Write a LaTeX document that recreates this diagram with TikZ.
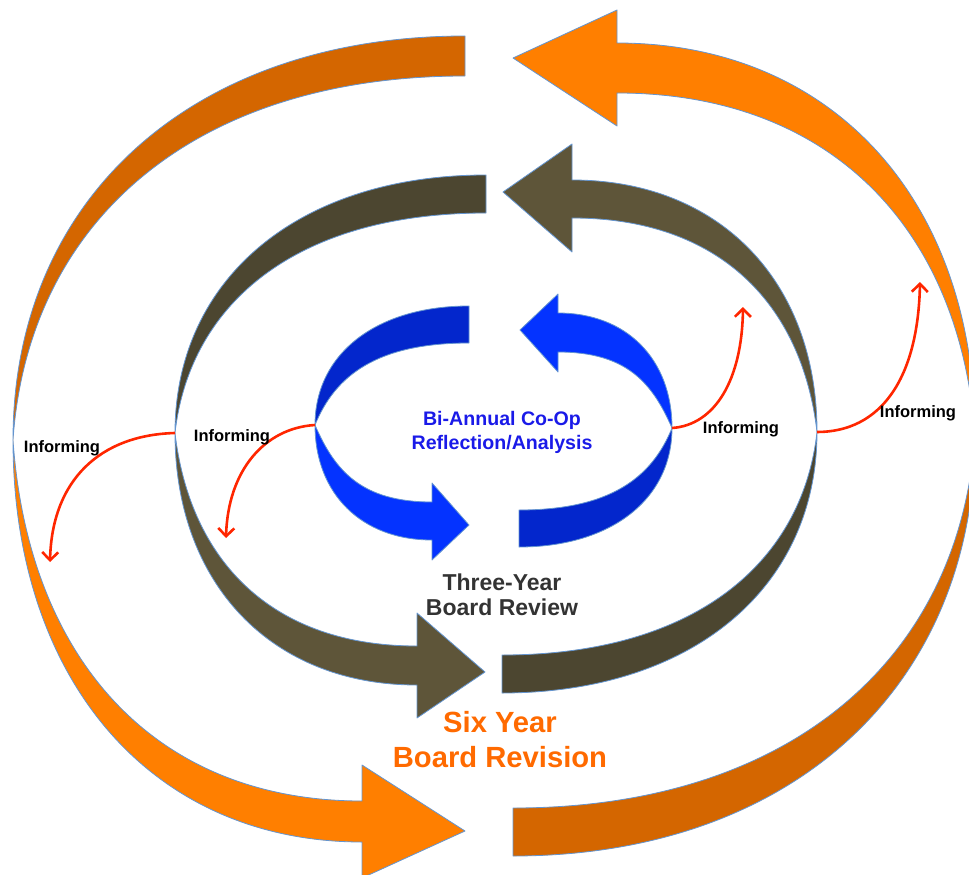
\documentclass[tikz,border=0pt]{standalone}
\usepackage{fontspec}
\setmainfont{Liberation Sans}
\usetikzlibrary{arrows.meta}
\definecolor{orA}{HTML}{FF7F00}
\definecolor{orB}{HTML}{D46600}
\definecolor{olA}{HTML}{5E5539}
\definecolor{olB}{HTML}{4C4630}
\definecolor{blA}{HTML}{0433FF}
\definecolor{blB}{HTML}{0326CC}
\definecolor{edgeblue}{HTML}{6495D0}
\definecolor{infred}{HTML}{FF2600}
\definecolor{bluetext}{HTML}{1A1AE8}
\definecolor{graytext}{HTML}{333333}
\definecolor{orangetext}{HTML}{FF6A00}
\tikzset{
  band/.style={draw=edgeblue, line width=0.8pt, line join=round, fill=#1},
  inform/.style={draw=infred, line width=2.6pt, -{Straight Barb[length=8pt,width=16pt]}},
  inflabel/.style={font=\bfseries\fontsize{16.5}{19}\selectfont, text=black, inner sep=0pt},
  biglabel/.style={font=\bfseries, align=center, inner sep=0pt}
}
\begin{document}
\begin{tikzpicture}[x=1pt,y=-1pt]
\useasboundingbox (0,0) rectangle (969,875);
\clip (0,0) rectangle (969,875);
\def\kk{0.6}
% ---------- outer ring (orange) ----------
\path[band=orB] (465,36) .. controls ({465-\kk*452},36) and (13,{440-\kk*404}) .. (13,440)
  .. controls (28,{440-\kk*364}) and ({465-\kk*452},76) .. (465,76) -- cycle;
\path[band=orA] (13,440) .. controls (13,{440+\kk*402}) and ({362-\kk*349},842) .. (362,842)
  -- (362,878) -- (465,831) -- (362,765) -- (362,801)
  .. controls ({362-\kk*349},801) and (28,{440+\kk*361}) .. (13,440) -- cycle;
\path[band=orA] (617,43) .. controls ({617+\kk*358},43) and (975,{435-\kk*392}) .. (975,435)
  .. controls (960,{435-\kk*342}) and ({617+\kk*358},93) .. (617,93)
  -- (617,126) -- (513,58) -- (617,10) -- cycle;
\path[band=orB] (975,435) .. controls (975,{435+\kk*421}) and ({513+\kk*462},856) .. (513,856)
  -- (513,808) .. controls ({513+\kk*462},808) and (960,{435+\kk*373}) .. (975,435) -- cycle;
% ---------- middle ring (olive) ----------
\path[band=olB] (486,175) .. controls ({486-\kk*311},175) and (175,{433-\kk*258}) .. (175,433)
  .. controls (190,{433-\kk*220}) and ({486-\kk*311},213) .. (486,213) -- cycle;
\path[band=olA] (175,433) .. controls (175,{433+\kk*252}) and ({417-\kk*242},685) .. (417,685)
  -- (417,718) -- (485,672) -- (417,613) -- (417,646)
  .. controls ({417-\kk*242},646) and (190,{433+\kk*213}) .. (175,433) -- cycle;
\path[band=olA] (572,180) .. controls ({572+\kk*245},180) and (817,{432-\kk*252}) .. (817,432)
  .. controls (802,{432-\kk*214}) and ({572+\kk*245},218) .. (572,218)
  -- (572,252) -- (503,192) -- (572,144) -- cycle;
\path[band=olB] (817,432) .. controls (817,{432+\kk*261}) and ({502+\kk*315},693) .. (502,693)
  -- (502,655) .. controls ({502+\kk*315},655) and (802,{432+\kk*223}) .. (817,432) -- cycle;
% ---------- inner ring (blue) ----------
\path[band=blB] (469,306) .. controls ({469-\kk*154},306) and (315,{425-\kk*119}) .. (315,425)
  .. controls (335,{425-\kk*82}) and ({469-\kk*154},343) .. (469,343) -- cycle;
\path[band=blA] (315,425) .. controls (315,{425+\kk*115}) and ({432-\kk*117},540) .. (432,540)
  -- (432,560) -- (469,525) -- (432,483) -- (432,502)
  .. controls ({432-\kk*117},502) and (335,{425+\kk*77}) .. (315,425) -- cycle;
\path[band=blA] (558,313) .. controls ({558+\kk*114},313) and (672,{428-\kk*115}) .. (672,428)
  .. controls (652,{428-\kk*76}) and ({558+\kk*114},352) .. (558,352)
  -- (558,372) -- (520,330) -- (558,294) -- cycle;
\path[band=blB] (672,428) .. controls (672,{428+\kk*119}) and ({519+\kk*153},547) .. (519,547)
  -- (519,510) .. controls ({519+\kk*153},510) and (652,{428+\kk*82}) .. (672,428) -- cycle;
% ---------- informing connectors ----------
\coordinate (pinchML) at (175,433);
\coordinate (tipA) at (50,562);
\coordinate (pinchBL) at (315,425);
\coordinate (tipB) at (226,538);
\coordinate (pinchBR) at (672,428);
\coordinate (tipC) at (743,307);
\coordinate (pinchMR) at (817,432);
\coordinate (tipD) at (920,282);
\draw[inform] (pinchML) .. controls (100,435) and (52,480) .. (tipA);
\draw[inform] (pinchBL) .. controls (265,428) and (228,470) .. (tipB);
\draw[inform] (pinchBR) .. controls (715,425) and (742,380) .. (tipC);
\draw[inform] (pinchMR) .. controls (880,432) and (918,380) .. (tipD);
\node[inflabel] (inf1) at (62,448) {Informing};
\node[inflabel] (inf2) at (232,437) {Informing};
\node[inflabel] (inf3) at (741,429) {Informing};
\node[inflabel] (inf4) at (918,413) {Informing};
% ---------- main labels ----------
\node[biglabel, text=bluetext, font=\bfseries\fontsize{19.6}{24}\selectfont] (biannual) at (502,432) {Bi-Annual Co-Op\\Reflection/Analysis};
\node[biglabel, text=graytext, font=\bfseries\fontsize{23}{24.5}\selectfont] (three) at (502,595) {Three-Year\\Board Review};
\node[biglabel, text=orangetext, font=\bfseries\fontsize{29.2}{35}\selectfont] (six) at (500,740) {Six Year\\Board Revision};
\end{tikzpicture}
\end{document}
